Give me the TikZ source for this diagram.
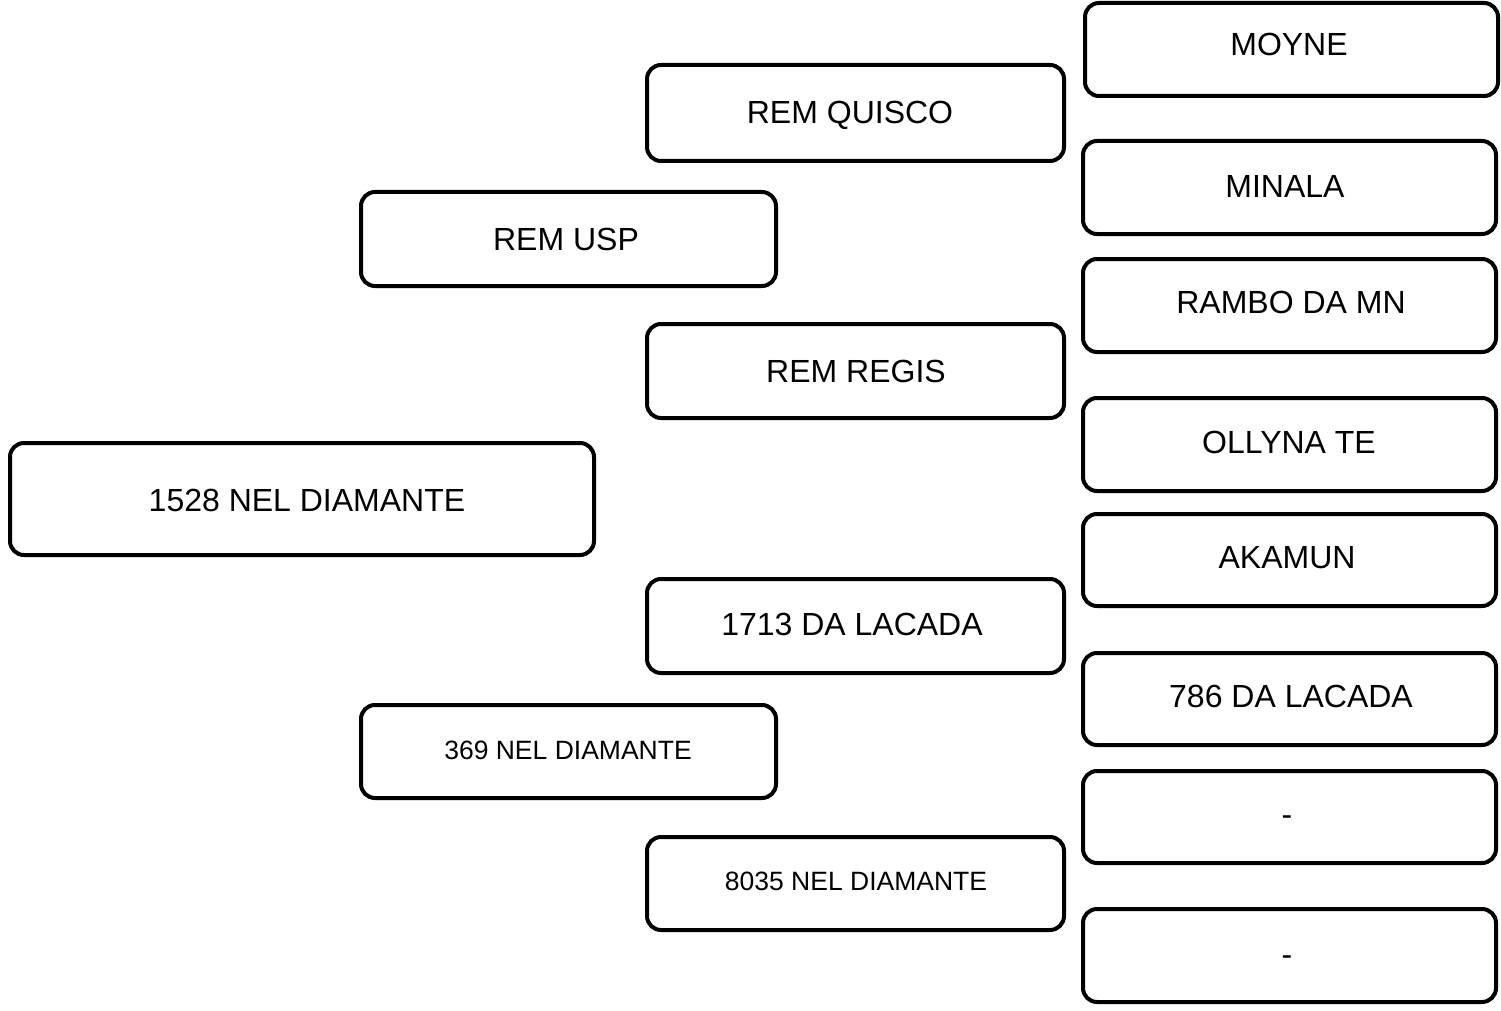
\documentclass[tikz,border=0pt]{standalone}
\usepackage{fontspec}
\setmainfont{Liberation Sans}
\begin{document}
\begin{tikzpicture}[x=1pt,y=-1pt,
  box/.style={draw=black, line width=4pt, rounded corners=14pt, fill=white, inner sep=0pt, outer sep=0pt},
  lbl/.style={inner sep=0pt, text height=23pt, text depth=0pt, font=\fontsize{32}{38}\selectfont},
  slbl/.style={inner sep=0pt, text height=19pt, text depth=0pt, font=\fontsize{26.5}{32}\selectfont}]
\newcommand\bx[9]{%
  \node[box, minimum width={(#4-#2)*1pt}, minimum height={(#5-#3)*1pt}] (#1) at ({(#2+#4)/2},{(#3+#5)/2}) {};
  \node[#8] (#1t) at (#6,#7) {#9};}
\useasboundingbox[fill=white] (0,0) rectangle (1501,1011);
% right column
\bx{moyne}{1085}{3}{1498}{96}{1289}{44}{lbl}{MOYNE}
\bx{minala}{1083}{141}{1496}{234}{1285}{186}{lbl}{MINALA}
\bx{rambo}{1083}{259}{1496}{352}{1291}{302}{lbl}{RAMBO DA MN}
\bx{ollyna}{1083}{398}{1496}{491}{1289}{442}{lbl}{OLLYNA TE}
\bx{akamun}{1083}{514}{1496}{606}{1287}{557}{lbl}{AKAMUN}
\bx{lacadaB}{1083}{653}{1496}{745}{1291}{696}{lbl}{786 DA LACADA}
\bx{dashA}{1083}{771}{1496}{863}{1287}{814}{lbl}{-}
\bx{dashB}{1083}{909}{1496}{1002}{1287}{954}{lbl}{-}
% middle column
\bx{quisco}{647}{65}{1064}{161}{850}{112}{lbl}{REM QUISCO}
\bx{regis}{647}{324}{1064}{418}{856}{371}{lbl}{REM REGIS}
\bx{lacadaA}{647}{579}{1064}{673}{852}{624}{lbl}{1713 DA LACADA}
\bx{nel8035}{647}{837}{1064}{930}{856}{881}{slbl}{8035 NEL DIAMANTE}
% left-middle column
\bx{usp}{361}{192}{776}{286}{566}{239}{lbl}{REM USP}
\bx{nel369}{361}{705}{776}{798}{568}{750}{slbl}{369 NEL DIAMANTE}
% left
\bx{nel1528}{10}{443}{594}{555}{307}{500}{lbl}{1528 NEL DIAMANTE}
\end{tikzpicture}
\end{document}
